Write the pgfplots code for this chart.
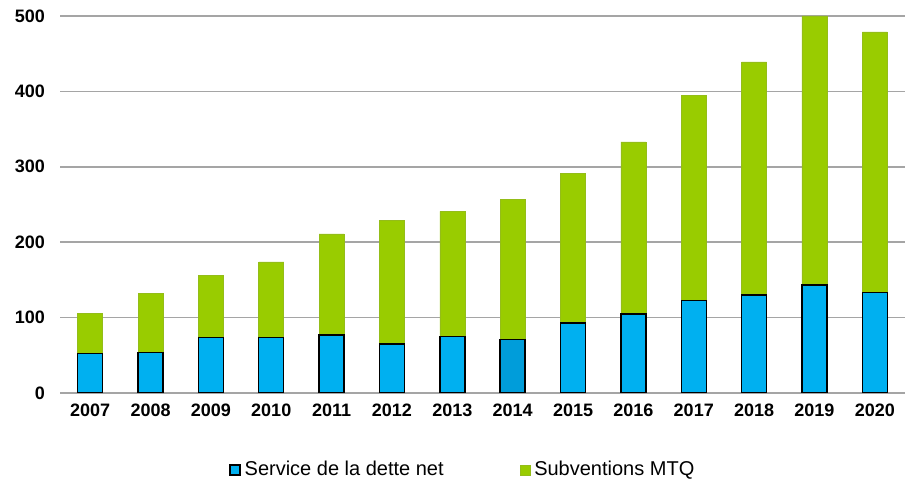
\documentclass[border=0pt]{standalone}
\usepackage{pgfplots}
\pgfplotsset{compat=1.18}
\usepackage{fontspec}
\setmainfont{Liberation Sans}
\definecolor{dette}{RGB}{0,176,240}
\definecolor{dettefonce}{RGB}{0,157,218}
\definecolor{mtq}{RGB}{153,204,0}
\definecolor{grille}{RGB}{165,165,165}

% service de la dette net / subventions MTQ (M$)
\pgfplotstableread{
x annee dette mtq
0 2007 52 54
1 2008 54 78
2 2009 74 82
3 2010 74 100
4 2011 77 134
5 2012 65 164
6 2013 75 166
7 2014 71 186
8 2015 93 198
9 2016 105 228
10 2017 123 272
11 2018 130 309
12 2019 143 357
13 2020 133 346
}\donnees

\pgfplotsset{
  base/.style={
    scale only axis,
    width=422.5pt, height=188.5pt,
    at={(30pt,44pt)}, anchor=south west,
    xmin=-0.5, xmax=13.5,
    ymin=0, ymax=500,
    bar width=12.5pt,
  },
}

\begin{document}
\begin{tikzpicture}
\useasboundingbox (0,0) rectangle (452.5pt,240.5pt);
\begin{axis}[
  base,
  ybar stacked,
  axis line style={draw=none},
  major tick length=0pt,
  ymajorgrids,
  grid style={grille, line width=0.75pt},
  ytick={0,100,...,500},
  xtick=data,
  xticklabels={2007,2008,2009,2010,2011,2012,2013,2014,2015,2016,2017,2018,2019,2020},
  /pgf/number format/assume math mode=true,
  tick label style={font=\fontsize{9}{10}\selectfont\bfseries},
  yticklabel style={xshift=-4pt},
  xticklabel style={yshift=-2pt},
  legend style={draw=none, at={(0.478,-0.204)}, anchor=center,
    font=\fontsize{10}{12}\selectfont, /tikz/every even column/.append style={column sep=36pt}},
  legend columns=2,
  legend cell align=left,
]
\addplot[fill=dette, draw=black, line width=0.7pt,
  legend image code/.code={\draw[fill=dette, draw=black, line width=0.6pt] (0pt,-2.5pt) rectangle (5pt,2.5pt);}]
  table[x=x, y=dette] {\donnees};
\addplot[fill=mtq, draw=mtq!80!gray, line width=0.3pt,
  legend image code/.code={\draw[fill=mtq, draw=mtq!80!gray, line width=0.3pt] (0pt,-2.5pt) rectangle (5pt,2.5pt);}]
  table[x=x, y=mtq] {\donnees};
\legend{Service de la dette net, Subventions MTQ}
\end{axis}
% barre 2014 d'un bleu plus foncé
\begin{axis}[
  base,
  ybar,
  hide axis,
]
\addplot[fill=dettefonce, draw=black, line width=0.7pt] coordinates {(7,71)};
\end{axis}
\end{tikzpicture}
\end{document}
